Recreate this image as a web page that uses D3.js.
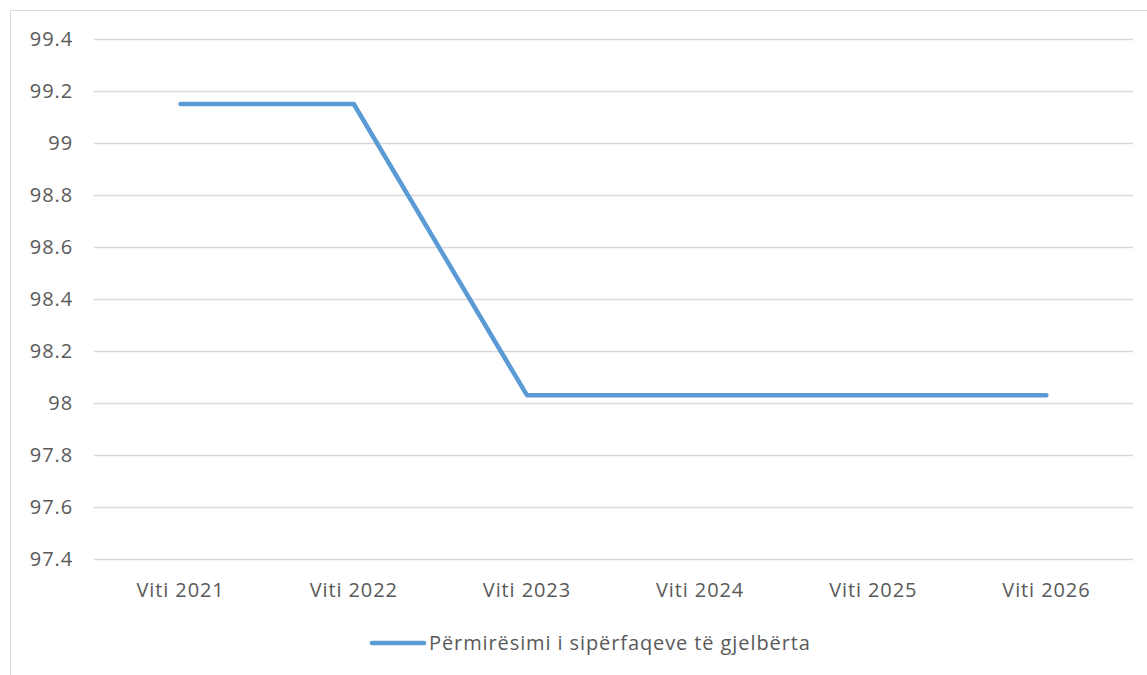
<!DOCTYPE html>
<html>
<head>
<meta charset="utf-8">
<script src="https://cdn.jsdelivr.net/npm/d3@7"></script>
<style>
	body{margin:0;background:#fff;}
	svg{display:block;font-family:"Open Sans","Liberation Sans",sans-serif;}
</style>
</head>
<body>
<div class="chart"></div>
<script>
// data
const categories = ['Viti 2021','Viti 2022','Viti 2023','Viti 2024','Viti 2025','Viti 2026'];
const values = [99.15, 99.15, 98.03, 98.03, 98.03, 98.03];
const yTicks = [97.4, 97.6, 97.8, 98, 98.2, 98.4, 98.6, 98.8, 99, 99.2, 99.4];
const seriesName = 'Përmirësimi i sipërfaqeve të gjelbërta';

const width = 1147, height = 675;
const margin = {l:94, t:39, r:14, b:116};
const lineColor = '#5b9bd5';
const textColor = '#595959';
const fontSize = '20px';
const spacing = '0.9px';

const svg = d3.select('.chart').append('svg')
	.attr('width', width)
	.attr('height', height);

// chart frame
svg.append('rect')
	.attr('x', 10.5).attr('y', 10.5)
	.attr('width', width).attr('height', height)
	.attr('fill', 'none')
	.attr('stroke', '#d9d9d9');

const x = d3.scaleBand()
	.domain(categories)
	.range([margin.l, width - margin.r]);

const y = d3.scaleLinear()
	.domain([97.4, 99.4])
	.range([height - margin.b, margin.t]);

// gridlines
svg.append('g')
	.selectAll('line')
	.data(yTicks)
	.join('line')
	.attr('x1', margin.l)
	.attr('x2', width - margin.r)
	.attr('y1', d => Math.round(y(d)) + 0.5)
	.attr('y2', d => Math.round(y(d)) + 0.5)
	.attr('stroke', '#d9d9d9')
	.attr('stroke-width', 1.3);

// y labels
svg.append('g')
	.selectAll('text')
	.data(yTicks)
	.join('text')
	.attr('x', 73)
	.attr('y', d => y(d))
	.attr('dy', '0.36em')
	.attr('text-anchor', 'end')
	.attr('fill', textColor)
	.attr('font-size', fontSize)
	.attr('letter-spacing', spacing)
	.text(d => d3.format('~g')(d));

// x labels
svg.append('g')
	.selectAll('text')
	.data(categories)
	.join('text')
	.attr('x', d => x(d) + x.bandwidth() / 2)
	.attr('y', 597)
	.attr('text-anchor', 'middle')
	.attr('fill', textColor)
	.attr('font-size', fontSize)
	.attr('letter-spacing', spacing)
	.text(d => d);

// series line
const line = d3.line()
	.x((d, i) => x(categories[i]) + x.bandwidth() / 2)
	.y(d => y(d));

svg.append('path')
	.datum(values)
	.attr('d', line)
	.attr('fill', 'none')
	.attr('stroke', lineColor)
	.attr('stroke-width', 4.5)
	.attr('stroke-linecap', 'round')
	.attr('stroke-linejoin', 'round');

// legend
const legend = svg.append('g').attr('transform', 'translate(0,643)');
legend.append('line')
	.attr('x1', 372).attr('x2', 424)
	.attr('stroke', lineColor)
	.attr('stroke-width', 4.5)
	.attr('stroke-linecap', 'round');
legend.append('text')
	.attr('x', 429)
	.attr('dy', '0.36em')
	.attr('fill', textColor)
	.attr('font-size', fontSize)
	.attr('letter-spacing', spacing)
	.text(seriesName);
</script>
</body>
</html>
